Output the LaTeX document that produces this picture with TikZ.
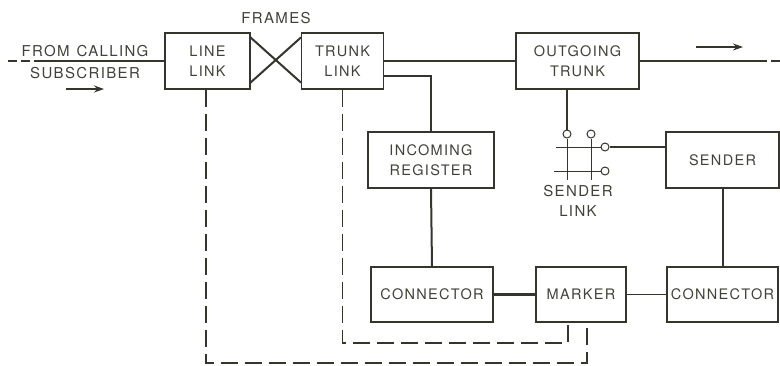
\documentclass[tikz,border=0pt]{standalone}
\usepackage{fontspec}
\setmainfont{TeX Gyre Heros}[LetterSpace=9.0]
\usepackage{tikz}
\usepackage{xcolor}
\usetikzlibrary{arrows.meta,positioning,shapes,calc}
\definecolor{ink}{HTML}{35352B}
\definecolor{inkgray}{HTML}{42423A}
\tikzset{
  blockbox/.style={
    draw=ink, fill=white, line width=1.1pt,
    align=center, inner sep=2pt, text=inkgray,
    font=\fontsize{14.5}{20}\selectfont
  },
  plainlabel/.style={
    align=center, inner sep=0pt, text=inkgray,
    font=\fontsize{15}{20}\selectfont
  },
  speechline/.style={draw=ink, line width=2.5pt},
  thinline/.style={draw=ink, line width=1.5pt},
  ctrlline/.style={draw=ink, line width=1.7pt, dash pattern=on 17pt off 7pt},
  gridline/.style={draw=ink, line width=0.8pt},
  contact/.style={draw=ink, fill=white, circle, line width=1pt,
    inner sep=0pt, minimum size=8pt},
  flowarrow/.style={draw=ink, line width=2pt, -{Stealth[length=10pt,width=7pt]}}
}

\begin{document}
\begin{tikzpicture}[x=1pt,y=-1pt]
  \useasboundingbox (0,0) rectangle (780,365);

  % switching frames and trunks
  \node[blockbox, minimum width=85pt, minimum height=56pt] (linelink) at (207.5,61) {LINE\\LINK};
  \node[blockbox, minimum width=82pt, minimum height=56pt] (trunklink) at (342.5,61) {TRUNK\\LINK};
  \node[blockbox, minimum width=123pt, minimum height=56pt] (outtrunk) at (577.5,61) {OUTGOING\\TRUNK};
  \node[blockbox, minimum width=126pt, minimum height=56pt] (increg) at (431,160) {INCOMING\\REGISTER};
  \node[blockbox, minimum width=113pt, minimum height=56pt] (sender) at (722.5,160) {SENDER};
  \node[blockbox, minimum width=122pt, minimum height=55pt] (connA) at (432,294.5) {CONNECTOR};
  \node[blockbox, minimum width=90pt, minimum height=55pt] (marker) at (581,294.5) {MARKER};
  \node[blockbox, minimum width=111pt, minimum height=55pt] (connB) at (722.5,294.5) {CONNECTOR};

  % labels
  \node[plainlabel] (frames) at (276,18) {FRAMES};
  \node[plainlabel] (fromcall) at (85,51) {FROM\hspace{7pt}CALLING};
  \node[plainlabel] (subscr) at (85,73) {SUBSCRIBER};
  \node[plainlabel] (senderlink) at (578,201) {SENDER\\LINK};

  % sender link contacts
  \node[contact] (slA) at (567,134) {};
  \node[contact] (slB) at (591,134) {};
  \node[contact] (slC) at (605,147) {};
  \node[contact] (slD) at (605,171) {};
  \draw[gridline] (556,147) -- (slC.west);
  \draw[gridline] (554,171) -- (slD.west);
  \draw[gridline] (slA.south) -- (567,180);
  \draw[gridline] (slB.south) -- (591,180);

  % speech path
  \coordinate (subin) at (38,61);
  \coordinate (subend) at (8,61);
  \coordinate (outend) at (758,61);
  \coordinate (farend) at (780,61);
  \draw[speechline, dash pattern=on 9pt off 4pt] (subend) -- (subin);
  \draw[speechline] (subin) -- (linelink.west);
  \draw[speechline] (trunklink.east) -- (outtrunk.west);
  \draw[speechline] (outtrunk.east) -- (outend);
  \draw[speechline, dash pattern=on 9pt off 4pt] (outend) -- (farend);
  \draw[speechline] ([yshift=-15pt]trunklink.east) -| (increg.north);
  \draw[speechline] (outtrunk.south -| slA) -- (slA.north);
  \draw[speechline] (slC.east) -- (slC.east -| sender.west);
  \draw[speechline] (connA.east) -- (marker.west);

  % frames cross
  \draw[speechline, line width=2pt] ([yshift=-5pt]linelink.north east) -- ([yshift=7pt]trunklink.south west);
  \draw[speechline, line width=2pt] ([yshift=7pt]linelink.south east) -- ([yshift=-5pt]trunklink.north west);

  % control paths
  \draw[thinline, line width=2pt] (increg.south) -- (connA.north);
  \draw[thinline] (marker.east) -- (connB.west);
  \draw[thinline, line width=2pt] (sender.south) -- (connB.north);
  \coordinate (outerbot) at (587,363);
  \coordinate (innerbot) at (568,343);
  \draw[ctrlline] ([xshift=-1.5pt]linelink.south) |- (outerbot) -- (outerbot |- marker.south);
  \draw[ctrlline] (trunklink.south) |- (innerbot) -- (innerbot |- marker.south);

  % direction arrows
  \coordinate (arrAs) at (66,89);
  \coordinate (arrAe) at (104,89);
  \coordinate (arrBs) at (696,47);
  \coordinate (arrBe) at (743,47);
  \draw[flowarrow] (arrAs) -- (arrAe);
  \draw[flowarrow] (arrBs) -- (arrBe);
\end{tikzpicture}
\end{document}
